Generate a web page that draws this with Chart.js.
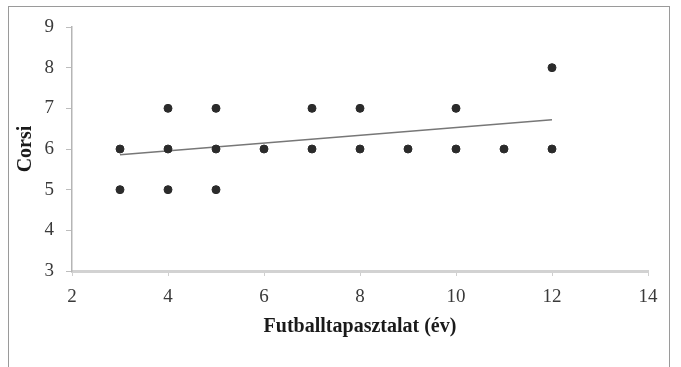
<!DOCTYPE html>
<html>
<head>
<meta charset="utf-8">
<style>
  body { margin: 0; background: #fff; }
  #wrap { position: relative; width: 681px; height: 367px; }
  #frame { position: absolute; left: 8px; top: 6px; width: 662px; height: 370px;
           border: 1px solid #9a9a9a; box-sizing: border-box; }
  canvas { position: absolute; left: 0; top: 0; }
</style>
<script src="https://cdn.jsdelivr.net/npm/chart.js"></script>
</head>
<body>
<div id="wrap">
  <div id="frame"></div>
  <canvas id="corsiChart" width="681" height="367"></canvas>
</div>
<script>
// Adatok
const experienceYears = [3, 3, 4, 4, 4, 5, 5, 5, 6, 7, 7, 8, 8, 9, 10, 10, 11, 12, 12];
const corsiScores     = [6, 5, 7, 6, 5, 7, 6, 5, 6, 7, 6, 7, 6, 6, 7, 6, 6, 8, 6];
const trendX = [3, 12];
const trendY = [5.86, 6.72];
const xTicks = [2, 4, 6, 8, 10, 12, 14];
const yTicks = [3, 4, 5, 6, 7, 8, 9];

const points = experienceYears.map((x, i) => ({ x: x, y: corsiScores[i] }));
const trend = trendX.map((x, i) => ({ x: x, y: trendY[i] }));

const serif = "'Liberation Serif', 'Times New Roman', serif";

new Chart(document.getElementById('corsiChart').getContext('2d'), {
  type: 'scatter',
  data: {
    datasets: [{
      label: 'Corsi',
      data: points,
      backgroundColor: '#2b2b2b',
      borderColor: '#2b2b2b',
      pointRadius: 4,
      pointHoverRadius: 4
    }, {
      type: 'line',
      label: 'Trend',
      data: trend,
      borderColor: '#777',
      borderWidth: 1.5,
      pointRadius: 0,
      fill: false
    }]
  },
  options: {
    responsive: false,
    animation: false,
    layout: { padding: { left: 0, right: 33, top: 27, bottom: 0 } },
    plugins: { legend: { display: false }, tooltip: { enabled: false } },
    scales: {
      x: {
        type: 'linear',
        min: xTicks[0],
        max: xTicks[xTicks.length - 1],
        afterBuildTicks: s => { s.ticks = xTicks.map(v => ({ value: v })); },
        afterFit: s => { s.height = 96; },
        border: { color: '#d2d2d2', width: 3 },
        grid: { drawOnChartArea: false, color: '#cfcfcf', tickLength: 5 },
        ticks: { color: '#3a3a3a', padding: 10, font: { family: serif, size: 19 } },
        title: {
          display: true,
          text: 'Futballtapasztalat (év)',
          color: '#1a1a1a',
          padding: { top: 0, bottom: 28 },
          font: { family: serif, size: 20, weight: 'bold' }
        }
      },
      y: {
        min: yTicks[0],
        max: yTicks[yTicks.length - 1],
        afterBuildTicks: s => { s.ticks = yTicks.map(v => ({ value: v })); },
        afterFit: s => { s.width = 72; },
        border: { color: '#b5b5b5', width: 1.5 },
        grid: { drawOnChartArea: false, color: '#bdbdbd', tickLength: 6 },
        ticks: { color: '#3a3a3a', padding: 12, font: { family: serif, size: 19 } },
        title: {
          display: true,
          text: 'Corsi',
          color: '#1a1a1a',
          padding: { top: 14, bottom: 0 },
          font: { family: serif, size: 20, weight: 'bold' }
        }
      }
    }
  }
});
</script>
</body>
</html>
